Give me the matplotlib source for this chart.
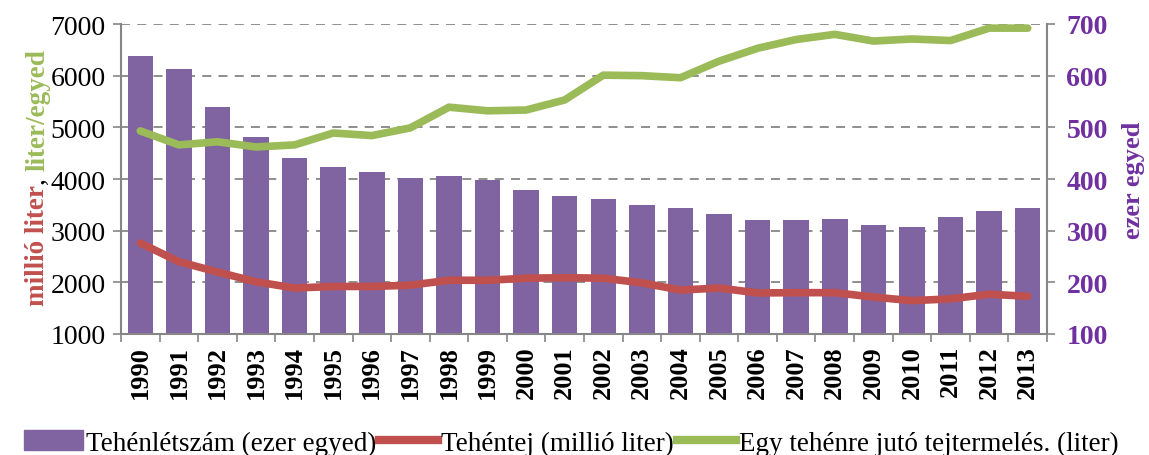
import matplotlib
matplotlib.use("Agg")
import matplotlib.pyplot as plt
from matplotlib.patches import Patch
from matplotlib.lines import Line2D
import numpy as np

years = [str(y) for y in range(1990, 2014)]
cows = [638, 613, 539, 481, 441, 423, 414, 402, 406, 398, 379, 367, 361, 350,
        344, 332, 321, 321, 323, 311, 308, 326, 338, 344]          # ezer egyed
milk = [2760, 2400, 2200, 2010, 1890, 1920, 1920, 1945, 2040, 2040, 2080, 2090,
        2080, 1990, 1850, 1890, 1795, 1800, 1800, 1715, 1645, 1680, 1770, 1730]  # millió liter
yield_per_cow = [4930, 4660, 4720, 4620, 4660, 4890, 4840, 4990, 5390, 5320, 5335,
                 5530, 6010, 6000, 5960, 6280, 6530, 6700, 6800, 6670, 6710, 6680,
                 6920, 6920]  # liter

left_ticks = [1000, 2000, 3000, 4000, 5000, 6000, 7000]
right_ticks = [100, 200, 300, 400, 500, 600, 700]

PURPLE = "#8064A2"
PURPLE_TXT = "#7030A0"
RED = "#C0504D"
GREEN = "#9BBB59"
GRAY = "#868686"

plt.rcParams['font.family'] = ['Liberation Serif', 'DejaVu Serif']

fig = plt.figure(figsize=(11.49, 4.56), dpi=100)
ax = fig.add_axes([121/1149, 1-335/456, (1047-121)/1149, (335-25)/456])
x = np.arange(len(years))

# bars on the primary axes (values on right axis)
ax.bar(x, [c - 100 for c in cows], bottom=100, width=0.66, color=PURPLE, zorder=2)
ax.set_ylim(100, 700)
ax.set_xlim(-0.5, len(years) - 0.5)
ax.grid(axis='y', linestyle=(0, (5, 4)), color=GRAY, linewidth=1.3)
ax.set_axisbelow(True)

# x ticks: boundaries with ticks, centers with labels
ax.set_xticks(np.arange(-0.5, len(years), 1.0))
ax.set_xticklabels([])
ax.set_xticks(x, minor=True)
ax.set_xticklabels(years, minor=True, rotation=90, fontsize=19, fontweight='bold')
ax.tick_params(axis='x', which='major', direction='out', length=6, color=GRAY, width=1.2)
ax.tick_params(axis='x', which='minor', length=0, pad=8)

ax.spines['top'].set_visible(False)
for s in ['left', 'right', 'bottom']:
    ax.spines[s].set_color(GRAY)
    ax.spines[s].set_linewidth(1.5)

# lines on twin axes (values on left axis)
ax2 = ax.twinx()
ax2.plot(x, milk, color=RED, linewidth=5.5, solid_capstyle='round', zorder=3)
ax2.plot(x, yield_per_cow, color=GREEN, linewidth=5.5, solid_capstyle='round', zorder=3)
ax2.set_ylim(1000, 7000)
ax2.yaxis.tick_left()
ax2.set_yticks(left_ticks)
ax2.set_yticklabels([str(t) for t in left_ticks], fontsize=20)
ax2.tick_params(axis='y', direction='out', length=6, color=GRAY, width=1.2, pad=5)
for s in ['top', 'left', 'right', 'bottom']:
    ax2.spines[s].set_visible(False)

# right axis for bars (after twinx, which resets ticks)
ax.yaxis.tick_right()
ax.set_yticks(right_ticks)
ax.set_yticklabels([str(t) for t in right_ticks], fontsize=20, fontweight='bold', color=PURPLE_TXT)
ax.tick_params(axis='y', direction='out', length=6, color=GRAY, width=1.2, pad=8)
ax.yaxis.set_label_position('right')
ax.set_ylabel('ezer egyed', fontsize=19, fontweight='bold', color=PURPLE_TXT, labelpad=10)

# multi-coloured left y label
fig.canvas.draw()
renderer = fig.canvas.get_renderer()
parts = [("millió liter", RED, 'bold'), (", ", "black", 'normal'), ("liter/egyed", GREEN, 'bold')]
xpos = 38 / 1149
cur = 1 - 306 / 456
for txt, col, wt in parts:
    t = fig.text(xpos, cur, txt, rotation=90, color=col, fontweight=wt, fontsize=19.5,
                 ha='left', va='center', rotation_mode='anchor')
    bb = t.get_window_extent(renderer)
    cur += bb.height / fig.bbox.height

handles = [Patch(facecolor=PURPLE, edgecolor=PURPLE),
           Line2D([0], [0], color=RED, linewidth=6),
           Line2D([0], [0], color=GREEN, linewidth=6)]
labels = ["Tehénlétszám (ezer egyed)", "Tehéntej (millió liter)", "Egy tehénre jutó tejtermelés. (liter)"]
fig.legend(handles, labels, loc='lower center', bbox_to_anchor=(0.497, -0.055), ncol=3,
           frameon=False, fontsize=19.5, handlelength=2.2, handletextpad=0.1,
           columnspacing=0.1, handleheight=0.75)

fig.savefig("out.png", dpi=100)
